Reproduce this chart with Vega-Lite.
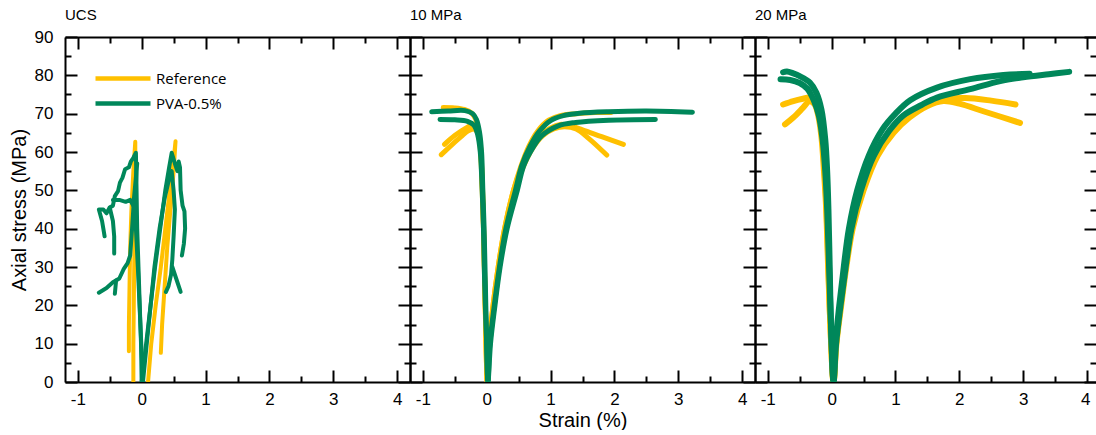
{
"$schema": "https://vega.github.io/schema/vega-lite/v6.json",
"background": "white",
"padding": {"left": 9, "top": 8, "right": 0, "bottom": 0},
"spacing": 0,
"bounds": "flush",
"config": {
  "view": {"stroke": null},
  "font": "Liberation Sans",
  "axis": {"labelFont": "Liberation Sans", "labelFontSize": 17, "labelColor": "black", "titleFont": "Liberation Sans", "titleFontSize": 20, "titleFontWeight": "normal", "titleColor": "black", "domainColor": "black", "domainWidth": 2, "tickColor": "black", "tickWidth": 2, "grid": false, "labelFlush": false, "labelOverlap": false},
  "title": {"font": "Liberation Sans", "fontSize": 15, "fontWeight": "normal", "anchor": "start", "frame": "group", "offset": 15, "baseline": "alphabetic", "color": "black"},
  "line": {"strokeCap": "round", "strokeJoin": "round"}
},
"datasets": {
"ucs": [
{"mat":"Reference","sid":"R-UCS-L","i":0,"strain":-0.2,"stress":8},{"mat":"Reference","sid":"R-UCS-L","i":1,"strain":-0.2,"stress":15},{"mat":"Reference","sid":"R-UCS-L","i":2,"strain":-0.19,"stress":25},{"mat":"Reference","sid":"R-UCS-L","i":3,"strain":-0.18,"stress":35},{"mat":"Reference","sid":"R-UCS-L","i":4,"strain":-0.16,"stress":45},{"mat":"Reference","sid":"R-UCS-L","i":5,"strain":-0.13,"stress":55},{"mat":"Reference","sid":"R-UCS-L","i":6,"strain":-0.1,"stress":62.7},{"mat":"Reference","sid":"R-UCS-L","i":7,"strain":-0.1,"stress":55},{"mat":"Reference","sid":"R-UCS-L","i":8,"strain":-0.11,"stress":40},{"mat":"Reference","sid":"R-UCS-L","i":9,"strain":-0.12,"stress":25},{"mat":"Reference","sid":"R-UCS-L","i":10,"strain":-0.13,"stress":10},{"mat":"Reference","sid":"R-UCS-L","i":11,"strain":-0.13,"stress":0},
{"mat":"Reference","sid":"R-UCS-A","i":0,"strain":0.1,"stress":0},{"mat":"Reference","sid":"R-UCS-A","i":1,"strain":0.15,"stress":10},{"mat":"Reference","sid":"R-UCS-A","i":2,"strain":0.22,"stress":20},{"mat":"Reference","sid":"R-UCS-A","i":3,"strain":0.3,"stress":30},{"mat":"Reference","sid":"R-UCS-A","i":4,"strain":0.37,"stress":40},{"mat":"Reference","sid":"R-UCS-A","i":5,"strain":0.44,"stress":50},{"mat":"Reference","sid":"R-UCS-A","i":6,"strain":0.5,"stress":58},{"mat":"Reference","sid":"R-UCS-A","i":7,"strain":0.53,"stress":62.8},{"mat":"Reference","sid":"R-UCS-A","i":8,"strain":0.5,"stress":55},{"mat":"Reference","sid":"R-UCS-A","i":9,"strain":0.45,"stress":45},{"mat":"Reference","sid":"R-UCS-A","i":10,"strain":0.4,"stress":35},{"mat":"Reference","sid":"R-UCS-A","i":11,"strain":0.36,"stress":25},{"mat":"Reference","sid":"R-UCS-A","i":12,"strain":0.32,"stress":15},{"mat":"Reference","sid":"R-UCS-A","i":13,"strain":0.3,"stress":7.6},
{"mat":"PVA-0.5%","sid":"G-UCS-1L","i":0,"strain":0,"stress":0},{"mat":"PVA-0.5%","sid":"G-UCS-1L","i":1,"strain":-0.01,"stress":10},{"mat":"PVA-0.5%","sid":"G-UCS-1L","i":2,"strain":-0.03,"stress":20},{"mat":"PVA-0.5%","sid":"G-UCS-1L","i":3,"strain":-0.05,"stress":30},{"mat":"PVA-0.5%","sid":"G-UCS-1L","i":4,"strain":-0.07,"stress":40},{"mat":"PVA-0.5%","sid":"G-UCS-1L","i":5,"strain":-0.08,"stress":50},{"mat":"PVA-0.5%","sid":"G-UCS-1L","i":6,"strain":-0.09,"stress":59.8},{"mat":"PVA-0.5%","sid":"G-UCS-1L","i":7,"strain":-0.13,"stress":58.5},{"mat":"PVA-0.5%","sid":"G-UCS-1L","i":8,"strain":-0.17,"stress":57.5},{"mat":"PVA-0.5%","sid":"G-UCS-1L","i":9,"strain":-0.2,"stress":56},{"mat":"PVA-0.5%","sid":"G-UCS-1L","i":10,"strain":-0.26,"stress":55.5},{"mat":"PVA-0.5%","sid":"G-UCS-1L","i":11,"strain":-0.3,"stress":53.3},{"mat":"PVA-0.5%","sid":"G-UCS-1L","i":12,"strain":-0.34,"stress":52},{"mat":"PVA-0.5%","sid":"G-UCS-1L","i":13,"strain":-0.37,"stress":49.8},{"mat":"PVA-0.5%","sid":"G-UCS-1L","i":14,"strain":-0.42,"stress":48.5},{"mat":"PVA-0.5%","sid":"G-UCS-1L","i":15,"strain":-0.45,"stress":46},{"mat":"PVA-0.5%","sid":"G-UCS-1L","i":16,"strain":-0.5,"stress":45.5},{"mat":"PVA-0.5%","sid":"G-UCS-1L","i":17,"strain":-0.55,"stress":44},{"mat":"PVA-0.5%","sid":"G-UCS-1L","i":18,"strain":-0.6,"stress":45},{"mat":"PVA-0.5%","sid":"G-UCS-1L","i":19,"strain":-0.67,"stress":45},{"mat":"PVA-0.5%","sid":"G-UCS-1L","i":20,"strain":-0.62,"stress":42},{"mat":"PVA-0.5%","sid":"G-UCS-1L","i":21,"strain":-0.6,"stress":40},{"mat":"PVA-0.5%","sid":"G-UCS-1L","i":22,"strain":-0.58,"stress":38},
{"mat":"PVA-0.5%","sid":"G-UCS-1Lb","i":0,"strain":-0.5,"stress":45.5},{"mat":"PVA-0.5%","sid":"G-UCS-1Lb","i":1,"strain":-0.45,"stress":42},{"mat":"PVA-0.5%","sid":"G-UCS-1Lb","i":2,"strain":-0.43,"stress":38},{"mat":"PVA-0.5%","sid":"G-UCS-1Lb","i":3,"strain":-0.43,"stress":33.5},
{"mat":"PVA-0.5%","sid":"G-UCS-1Lc","i":0,"strain":-0.45,"stress":47.5},{"mat":"PVA-0.5%","sid":"G-UCS-1Lc","i":1,"strain":-0.35,"stress":47.5},{"mat":"PVA-0.5%","sid":"G-UCS-1Lc","i":2,"strain":-0.25,"stress":47},{"mat":"PVA-0.5%","sid":"G-UCS-1Lc","i":3,"strain":-0.18,"stress":47.5},{"mat":"PVA-0.5%","sid":"G-UCS-1Lc","i":4,"strain":-0.13,"stress":46},
{"mat":"PVA-0.5%","sid":"G-UCS-2L","i":0,"strain":0.02,"stress":0},{"mat":"PVA-0.5%","sid":"G-UCS-2L","i":1,"strain":-0.02,"stress":15},{"mat":"PVA-0.5%","sid":"G-UCS-2L","i":2,"strain":-0.06,"stress":30},{"mat":"PVA-0.5%","sid":"G-UCS-2L","i":3,"strain":-0.09,"stress":40},{"mat":"PVA-0.5%","sid":"G-UCS-2L","i":4,"strain":-0.1,"stress":48},{"mat":"PVA-0.5%","sid":"G-UCS-2L","i":5,"strain":-0.08,"stress":55},{"mat":"PVA-0.5%","sid":"G-UCS-2L","i":6,"strain":-0.07,"stress":57},{"mat":"PVA-0.5%","sid":"G-UCS-2L","i":7,"strain":-0.12,"stress":48},{"mat":"PVA-0.5%","sid":"G-UCS-2L","i":8,"strain":-0.15,"stress":40},{"mat":"PVA-0.5%","sid":"G-UCS-2L","i":9,"strain":-0.18,"stress":33},{"mat":"PVA-0.5%","sid":"G-UCS-2L","i":10,"strain":-0.22,"stress":31},{"mat":"PVA-0.5%","sid":"G-UCS-2L","i":11,"strain":-0.28,"stress":29.5},{"mat":"PVA-0.5%","sid":"G-UCS-2L","i":12,"strain":-0.35,"stress":27},{"mat":"PVA-0.5%","sid":"G-UCS-2L","i":13,"strain":-0.45,"stress":26},{"mat":"PVA-0.5%","sid":"G-UCS-2L","i":14,"strain":-0.55,"stress":24.5},{"mat":"PVA-0.5%","sid":"G-UCS-2L","i":15,"strain":-0.67,"stress":23.3},
{"mat":"PVA-0.5%","sid":"G-UCS-2Lb","i":0,"strain":-0.4,"stress":26.5},{"mat":"PVA-0.5%","sid":"G-UCS-2Lb","i":1,"strain":-0.42,"stress":23},
{"mat":"PVA-0.5%","sid":"G-UCS-1A","i":0,"strain":0,"stress":0},{"mat":"PVA-0.5%","sid":"G-UCS-1A","i":1,"strain":0.07,"stress":10},{"mat":"PVA-0.5%","sid":"G-UCS-1A","i":2,"strain":0.14,"stress":20},{"mat":"PVA-0.5%","sid":"G-UCS-1A","i":3,"strain":0.21,"stress":30},{"mat":"PVA-0.5%","sid":"G-UCS-1A","i":4,"strain":0.29,"stress":40},{"mat":"PVA-0.5%","sid":"G-UCS-1A","i":5,"strain":0.37,"stress":50},{"mat":"PVA-0.5%","sid":"G-UCS-1A","i":6,"strain":0.43,"stress":56},{"mat":"PVA-0.5%","sid":"G-UCS-1A","i":7,"strain":0.47,"stress":59.8},{"mat":"PVA-0.5%","sid":"G-UCS-1A","i":8,"strain":0.52,"stress":57},{"mat":"PVA-0.5%","sid":"G-UCS-1A","i":9,"strain":0.56,"stress":55},{"mat":"PVA-0.5%","sid":"G-UCS-1A","i":10,"strain":0.58,"stress":57.5},{"mat":"PVA-0.5%","sid":"G-UCS-1A","i":11,"strain":0.6,"stress":56},{"mat":"PVA-0.5%","sid":"G-UCS-1A","i":12,"strain":0.61,"stress":50},{"mat":"PVA-0.5%","sid":"G-UCS-1A","i":13,"strain":0.64,"stress":46},{"mat":"PVA-0.5%","sid":"G-UCS-1A","i":14,"strain":0.67,"stress":44.5},{"mat":"PVA-0.5%","sid":"G-UCS-1A","i":15,"strain":0.68,"stress":40},{"mat":"PVA-0.5%","sid":"G-UCS-1A","i":16,"strain":0.66,"stress":36},{"mat":"PVA-0.5%","sid":"G-UCS-1A","i":17,"strain":0.63,"stress":33},
{"mat":"PVA-0.5%","sid":"G-UCS-2A","i":0,"strain":0.02,"stress":0},{"mat":"PVA-0.5%","sid":"G-UCS-2A","i":1,"strain":0.08,"stress":10},{"mat":"PVA-0.5%","sid":"G-UCS-2A","i":2,"strain":0.14,"stress":20},{"mat":"PVA-0.5%","sid":"G-UCS-2A","i":3,"strain":0.2,"stress":30},{"mat":"PVA-0.5%","sid":"G-UCS-2A","i":4,"strain":0.28,"stress":40},{"mat":"PVA-0.5%","sid":"G-UCS-2A","i":5,"strain":0.36,"stress":48},{"mat":"PVA-0.5%","sid":"G-UCS-2A","i":6,"strain":0.43,"stress":53},{"mat":"PVA-0.5%","sid":"G-UCS-2A","i":7,"strain":0.47,"stress":55},{"mat":"PVA-0.5%","sid":"G-UCS-2A","i":8,"strain":0.5,"stress":50},{"mat":"PVA-0.5%","sid":"G-UCS-2A","i":9,"strain":0.52,"stress":45},{"mat":"PVA-0.5%","sid":"G-UCS-2A","i":10,"strain":0.5,"stress":38},{"mat":"PVA-0.5%","sid":"G-UCS-2A","i":11,"strain":0.48,"stress":32},{"mat":"PVA-0.5%","sid":"G-UCS-2A","i":12,"strain":0.46,"stress":28},{"mat":"PVA-0.5%","sid":"G-UCS-2A","i":13,"strain":0.42,"stress":25},{"mat":"PVA-0.5%","sid":"G-UCS-2A","i":14,"strain":0.38,"stress":23.5},
{"mat":"PVA-0.5%","sid":"G-UCS-2Ab","i":0,"strain":0.48,"stress":30},{"mat":"PVA-0.5%","sid":"G-UCS-2Ab","i":1,"strain":0.54,"stress":27},{"mat":"PVA-0.5%","sid":"G-UCS-2Ab","i":2,"strain":0.61,"stress":23.5}
],
"p10": [
{"mat":"Reference","sid":"R-10-1","i":0,"strain":-0.68,"stress":71.6},{"mat":"Reference","sid":"R-10-1","i":1,"strain":-0.5,"stress":71.5},{"mat":"Reference","sid":"R-10-1","i":2,"strain":-0.35,"stress":71.1},{"mat":"Reference","sid":"R-10-1","i":3,"strain":-0.24,"stress":70.2},{"mat":"Reference","sid":"R-10-1","i":4,"strain":-0.17,"stress":68.5},{"mat":"Reference","sid":"R-10-1","i":5,"strain":-0.12,"stress":65},{"mat":"Reference","sid":"R-10-1","i":6,"strain":-0.09,"stress":60},{"mat":"Reference","sid":"R-10-1","i":7,"strain":-0.07,"stress":50},{"mat":"Reference","sid":"R-10-1","i":8,"strain":-0.05,"stress":40},{"mat":"Reference","sid":"R-10-1","i":9,"strain":-0.03,"stress":25},{"mat":"Reference","sid":"R-10-1","i":10,"strain":-0.01,"stress":10},{"mat":"Reference","sid":"R-10-1","i":11,"strain":0.01,"stress":0},{"mat":"Reference","sid":"R-10-1","i":12,"strain":0.04,"stress":10},{"mat":"Reference","sid":"R-10-1","i":13,"strain":0.1,"stress":20},{"mat":"Reference","sid":"R-10-1","i":14,"strain":0.18,"stress":30},{"mat":"Reference","sid":"R-10-1","i":15,"strain":0.28,"stress":40},{"mat":"Reference","sid":"R-10-1","i":16,"strain":0.42,"stress":50},{"mat":"Reference","sid":"R-10-1","i":17,"strain":0.53,"stress":56},{"mat":"Reference","sid":"R-10-1","i":18,"strain":0.66,"stress":61.5},{"mat":"Reference","sid":"R-10-1","i":19,"strain":0.8,"stress":65.5},{"mat":"Reference","sid":"R-10-1","i":20,"strain":0.97,"stress":68.3},{"mat":"Reference","sid":"R-10-1","i":21,"strain":1.15,"stress":69.5},{"mat":"Reference","sid":"R-10-1","i":22,"strain":1.4,"stress":70},{"mat":"Reference","sid":"R-10-1","i":23,"strain":1.7,"stress":70.3},{"mat":"Reference","sid":"R-10-1","i":24,"strain":1.95,"stress":70.3},
{"mat":"Reference","sid":"R-10-2","i":0,"strain":-0.66,"stress":62},{"mat":"Reference","sid":"R-10-2","i":1,"strain":-0.5,"stress":64.3},{"mat":"Reference","sid":"R-10-2","i":2,"strain":-0.3,"stress":66.5},{"mat":"Reference","sid":"R-10-2","i":3,"strain":-0.2,"stress":67.3},{"mat":"Reference","sid":"R-10-2","i":4,"strain":-0.14,"stress":66},{"mat":"Reference","sid":"R-10-2","i":5,"strain":-0.1,"stress":62},{"mat":"Reference","sid":"R-10-2","i":6,"strain":-0.075,"stress":55},{"mat":"Reference","sid":"R-10-2","i":7,"strain":-0.055,"stress":45},{"mat":"Reference","sid":"R-10-2","i":8,"strain":-0.035,"stress":30},{"mat":"Reference","sid":"R-10-2","i":9,"strain":-0.015,"stress":15},{"mat":"Reference","sid":"R-10-2","i":10,"strain":0.01,"stress":0},{"mat":"Reference","sid":"R-10-2","i":11,"strain":0.04,"stress":10},{"mat":"Reference","sid":"R-10-2","i":12,"strain":0.1,"stress":20},{"mat":"Reference","sid":"R-10-2","i":13,"strain":0.18,"stress":30},{"mat":"Reference","sid":"R-10-2","i":14,"strain":0.28,"stress":40},{"mat":"Reference","sid":"R-10-2","i":15,"strain":0.42,"stress":50},{"mat":"Reference","sid":"R-10-2","i":16,"strain":0.55,"stress":56},{"mat":"Reference","sid":"R-10-2","i":17,"strain":0.7,"stress":61},{"mat":"Reference","sid":"R-10-2","i":18,"strain":0.85,"stress":64.5},{"mat":"Reference","sid":"R-10-2","i":19,"strain":1,"stress":66.3},{"mat":"Reference","sid":"R-10-2","i":20,"strain":1.15,"stress":67.2},{"mat":"Reference","sid":"R-10-2","i":21,"strain":1.28,"stress":67},{"mat":"Reference","sid":"R-10-2","i":22,"strain":1.5,"stress":65.8},{"mat":"Reference","sid":"R-10-2","i":23,"strain":1.8,"stress":64},{"mat":"Reference","sid":"R-10-2","i":24,"strain":2.14,"stress":62},
{"mat":"Reference","sid":"R-10-3","i":0,"strain":-0.71,"stress":59.3},{"mat":"Reference","sid":"R-10-3","i":1,"strain":-0.55,"stress":61.8},{"mat":"Reference","sid":"R-10-3","i":2,"strain":-0.4,"stress":64},{"mat":"Reference","sid":"R-10-3","i":3,"strain":-0.29,"stress":65.5},{"mat":"Reference","sid":"R-10-3","i":4,"strain":-0.2,"stress":66},{"mat":"Reference","sid":"R-10-3","i":5,"strain":-0.14,"stress":65},{"mat":"Reference","sid":"R-10-3","i":6,"strain":-0.1,"stress":61},{"mat":"Reference","sid":"R-10-3","i":7,"strain":-0.08,"stress":55},{"mat":"Reference","sid":"R-10-3","i":8,"strain":-0.055,"stress":45},{"mat":"Reference","sid":"R-10-3","i":9,"strain":-0.035,"stress":30},{"mat":"Reference","sid":"R-10-3","i":10,"strain":-0.015,"stress":15},{"mat":"Reference","sid":"R-10-3","i":11,"strain":0.01,"stress":0},{"mat":"Reference","sid":"R-10-3","i":12,"strain":0.045,"stress":10},{"mat":"Reference","sid":"R-10-3","i":13,"strain":0.11,"stress":20},{"mat":"Reference","sid":"R-10-3","i":14,"strain":0.19,"stress":30},{"mat":"Reference","sid":"R-10-3","i":15,"strain":0.29,"stress":40},{"mat":"Reference","sid":"R-10-3","i":16,"strain":0.44,"stress":50},{"mat":"Reference","sid":"R-10-3","i":17,"strain":0.57,"stress":56},{"mat":"Reference","sid":"R-10-3","i":18,"strain":0.72,"stress":61},{"mat":"Reference","sid":"R-10-3","i":19,"strain":0.88,"stress":64.3},{"mat":"Reference","sid":"R-10-3","i":20,"strain":1.05,"stress":66},{"mat":"Reference","sid":"R-10-3","i":21,"strain":1.22,"stress":66.6},{"mat":"Reference","sid":"R-10-3","i":22,"strain":1.4,"stress":66},{"mat":"Reference","sid":"R-10-3","i":23,"strain":1.6,"stress":63.5},{"mat":"Reference","sid":"R-10-3","i":24,"strain":1.88,"stress":59.2},
{"mat":"PVA-0.5%","sid":"G-10-A","i":0,"strain":-0.86,"stress":70.5},{"mat":"PVA-0.5%","sid":"G-10-A","i":1,"strain":-0.6,"stress":70.7},{"mat":"PVA-0.5%","sid":"G-10-A","i":2,"strain":-0.34,"stress":70.8},{"mat":"PVA-0.5%","sid":"G-10-A","i":3,"strain":-0.22,"stress":70},{"mat":"PVA-0.5%","sid":"G-10-A","i":4,"strain":-0.16,"stress":68.5},{"mat":"PVA-0.5%","sid":"G-10-A","i":5,"strain":-0.11,"stress":65},{"mat":"PVA-0.5%","sid":"G-10-A","i":6,"strain":-0.08,"stress":60},{"mat":"PVA-0.5%","sid":"G-10-A","i":7,"strain":-0.06,"stress":50},{"mat":"PVA-0.5%","sid":"G-10-A","i":8,"strain":-0.04,"stress":40},{"mat":"PVA-0.5%","sid":"G-10-A","i":9,"strain":-0.02,"stress":25},{"mat":"PVA-0.5%","sid":"G-10-A","i":10,"strain":0,"stress":10},{"mat":"PVA-0.5%","sid":"G-10-A","i":11,"strain":0.02,"stress":0},{"mat":"PVA-0.5%","sid":"G-10-A","i":12,"strain":0.05,"stress":10},{"mat":"PVA-0.5%","sid":"G-10-A","i":13,"strain":0.12,"stress":20},{"mat":"PVA-0.5%","sid":"G-10-A","i":14,"strain":0.2,"stress":30},{"mat":"PVA-0.5%","sid":"G-10-A","i":15,"strain":0.3,"stress":40},{"mat":"PVA-0.5%","sid":"G-10-A","i":16,"strain":0.45,"stress":50},{"mat":"PVA-0.5%","sid":"G-10-A","i":17,"strain":0.55,"stress":56.5},{"mat":"PVA-0.5%","sid":"G-10-A","i":18,"strain":0.68,"stress":61.5},{"mat":"PVA-0.5%","sid":"G-10-A","i":19,"strain":0.82,"stress":65.3},{"mat":"PVA-0.5%","sid":"G-10-A","i":20,"strain":1,"stress":68.2},{"mat":"PVA-0.5%","sid":"G-10-A","i":21,"strain":1.2,"stress":69.5},{"mat":"PVA-0.5%","sid":"G-10-A","i":22,"strain":1.45,"stress":70.1},{"mat":"PVA-0.5%","sid":"G-10-A","i":23,"strain":1.9,"stress":70.5},{"mat":"PVA-0.5%","sid":"G-10-A","i":24,"strain":2.5,"stress":70.7},{"mat":"PVA-0.5%","sid":"G-10-A","i":25,"strain":3.22,"stress":70.4},
{"mat":"PVA-0.5%","sid":"G-10-B","i":0,"strain":-0.73,"stress":68.5},{"mat":"PVA-0.5%","sid":"G-10-B","i":1,"strain":-0.5,"stress":68.4},{"mat":"PVA-0.5%","sid":"G-10-B","i":2,"strain":-0.3,"stress":68},{"mat":"PVA-0.5%","sid":"G-10-B","i":3,"strain":-0.2,"stress":67},{"mat":"PVA-0.5%","sid":"G-10-B","i":4,"strain":-0.14,"stress":64.5},{"mat":"PVA-0.5%","sid":"G-10-B","i":5,"strain":-0.1,"stress":60},{"mat":"PVA-0.5%","sid":"G-10-B","i":6,"strain":-0.07,"stress":50},{"mat":"PVA-0.5%","sid":"G-10-B","i":7,"strain":-0.05,"stress":40},{"mat":"PVA-0.5%","sid":"G-10-B","i":8,"strain":-0.03,"stress":25},{"mat":"PVA-0.5%","sid":"G-10-B","i":9,"strain":0,"stress":10},{"mat":"PVA-0.5%","sid":"G-10-B","i":10,"strain":0.02,"stress":0},{"mat":"PVA-0.5%","sid":"G-10-B","i":11,"strain":0.06,"stress":10},{"mat":"PVA-0.5%","sid":"G-10-B","i":12,"strain":0.13,"stress":20},{"mat":"PVA-0.5%","sid":"G-10-B","i":13,"strain":0.21,"stress":30},{"mat":"PVA-0.5%","sid":"G-10-B","i":14,"strain":0.32,"stress":40},{"mat":"PVA-0.5%","sid":"G-10-B","i":15,"strain":0.48,"stress":50},{"mat":"PVA-0.5%","sid":"G-10-B","i":16,"strain":0.58,"stress":56.4},{"mat":"PVA-0.5%","sid":"G-10-B","i":17,"strain":0.72,"stress":61},{"mat":"PVA-0.5%","sid":"G-10-B","i":18,"strain":0.86,"stress":64.2},{"mat":"PVA-0.5%","sid":"G-10-B","i":19,"strain":1.12,"stress":66.8},{"mat":"PVA-0.5%","sid":"G-10-B","i":20,"strain":1.39,"stress":67.7},{"mat":"PVA-0.5%","sid":"G-10-B","i":21,"strain":1.91,"stress":68.3},{"mat":"PVA-0.5%","sid":"G-10-B","i":22,"strain":2.64,"stress":68.5}
],
"p20": [
{"mat":"Reference","sid":"R-20-1","i":0,"strain":-0.76,"stress":72.4},{"mat":"Reference","sid":"R-20-1","i":1,"strain":-0.6,"stress":73.3},{"mat":"Reference","sid":"R-20-1","i":2,"strain":-0.45,"stress":73.9},{"mat":"Reference","sid":"R-20-1","i":3,"strain":-0.34,"stress":74.2},{"mat":"Reference","sid":"R-20-1","i":4,"strain":-0.26,"stress":73},{"mat":"Reference","sid":"R-20-1","i":5,"strain":-0.2,"stress":70},{"mat":"Reference","sid":"R-20-1","i":6,"strain":-0.15,"stress":64.2},{"mat":"Reference","sid":"R-20-1","i":7,"strain":-0.11,"stress":55},{"mat":"Reference","sid":"R-20-1","i":8,"strain":-0.08,"stress":45},{"mat":"Reference","sid":"R-20-1","i":9,"strain":-0.05,"stress":30},{"mat":"Reference","sid":"R-20-1","i":10,"strain":-0.02,"stress":15},{"mat":"Reference","sid":"R-20-1","i":11,"strain":0.03,"stress":0},{"mat":"Reference","sid":"R-20-1","i":12,"strain":0.07,"stress":10},{"mat":"Reference","sid":"R-20-1","i":13,"strain":0.14,"stress":20},{"mat":"Reference","sid":"R-20-1","i":14,"strain":0.22,"stress":30},{"mat":"Reference","sid":"R-20-1","i":15,"strain":0.32,"stress":40},{"mat":"Reference","sid":"R-20-1","i":16,"strain":0.48,"stress":50},{"mat":"Reference","sid":"R-20-1","i":17,"strain":0.7,"stress":59},{"mat":"Reference","sid":"R-20-1","i":18,"strain":0.95,"stress":65},{"mat":"Reference","sid":"R-20-1","i":19,"strain":1.2,"stress":69.3},{"mat":"Reference","sid":"R-20-1","i":20,"strain":1.5,"stress":72.3},{"mat":"Reference","sid":"R-20-1","i":21,"strain":1.8,"stress":73.8},{"mat":"Reference","sid":"R-20-1","i":22,"strain":2.1,"stress":74.1},{"mat":"Reference","sid":"R-20-1","i":23,"strain":2.5,"stress":73.4},{"mat":"Reference","sid":"R-20-1","i":24,"strain":2.88,"stress":72.4},
{"mat":"Reference","sid":"R-20-2","i":0,"strain":-0.73,"stress":67.2},{"mat":"Reference","sid":"R-20-2","i":1,"strain":-0.6,"stress":69},{"mat":"Reference","sid":"R-20-2","i":2,"strain":-0.45,"stress":71.5},{"mat":"Reference","sid":"R-20-2","i":3,"strain":-0.35,"stress":73.2},{"mat":"Reference","sid":"R-20-2","i":4,"strain":-0.27,"stress":72.5},{"mat":"Reference","sid":"R-20-2","i":5,"strain":-0.21,"stress":69.5},{"mat":"Reference","sid":"R-20-2","i":6,"strain":-0.16,"stress":64},{"mat":"Reference","sid":"R-20-2","i":7,"strain":-0.12,"stress":55},{"mat":"Reference","sid":"R-20-2","i":8,"strain":-0.085,"stress":45},{"mat":"Reference","sid":"R-20-2","i":9,"strain":-0.055,"stress":30},{"mat":"Reference","sid":"R-20-2","i":10,"strain":-0.02,"stress":15},{"mat":"Reference","sid":"R-20-2","i":11,"strain":0.03,"stress":0},{"mat":"Reference","sid":"R-20-2","i":12,"strain":0.075,"stress":10},{"mat":"Reference","sid":"R-20-2","i":13,"strain":0.15,"stress":20},{"mat":"Reference","sid":"R-20-2","i":14,"strain":0.23,"stress":30},{"mat":"Reference","sid":"R-20-2","i":15,"strain":0.33,"stress":40},{"mat":"Reference","sid":"R-20-2","i":16,"strain":0.5,"stress":50},{"mat":"Reference","sid":"R-20-2","i":17,"strain":0.72,"stress":59},{"mat":"Reference","sid":"R-20-2","i":18,"strain":0.97,"stress":65},{"mat":"Reference","sid":"R-20-2","i":19,"strain":1.22,"stress":69},{"mat":"Reference","sid":"R-20-2","i":20,"strain":1.5,"stress":72},{"mat":"Reference","sid":"R-20-2","i":21,"strain":1.75,"stress":73.3},{"mat":"Reference","sid":"R-20-2","i":22,"strain":2,"stress":72.6},{"mat":"Reference","sid":"R-20-2","i":23,"strain":2.4,"stress":70.5},{"mat":"Reference","sid":"R-20-2","i":24,"strain":2.95,"stress":67.6},
{"mat":"PVA-0.5%","sid":"G-20-A","i":0,"strain":-0.76,"stress":80.8},{"mat":"PVA-0.5%","sid":"G-20-A","i":1,"strain":-0.7,"stress":81},{"mat":"PVA-0.5%","sid":"G-20-A","i":2,"strain":-0.6,"stress":80.5},{"mat":"PVA-0.5%","sid":"G-20-A","i":3,"strain":-0.5,"stress":79.8},{"mat":"PVA-0.5%","sid":"G-20-A","i":4,"strain":-0.34,"stress":78.1},{"mat":"PVA-0.5%","sid":"G-20-A","i":5,"strain":-0.24,"stress":75.5},{"mat":"PVA-0.5%","sid":"G-20-A","i":6,"strain":-0.16,"stress":71.1},{"mat":"PVA-0.5%","sid":"G-20-A","i":7,"strain":-0.1,"stress":63.3},{"mat":"PVA-0.5%","sid":"G-20-A","i":8,"strain":-0.07,"stress":55},{"mat":"PVA-0.5%","sid":"G-20-A","i":9,"strain":-0.05,"stress":45},{"mat":"PVA-0.5%","sid":"G-20-A","i":10,"strain":-0.03,"stress":30},{"mat":"PVA-0.5%","sid":"G-20-A","i":11,"strain":-0.01,"stress":15},{"mat":"PVA-0.5%","sid":"G-20-A","i":12,"strain":0.03,"stress":0},{"mat":"PVA-0.5%","sid":"G-20-A","i":13,"strain":0.06,"stress":10},{"mat":"PVA-0.5%","sid":"G-20-A","i":14,"strain":0.12,"stress":20},{"mat":"PVA-0.5%","sid":"G-20-A","i":15,"strain":0.19,"stress":30},{"mat":"PVA-0.5%","sid":"G-20-A","i":16,"strain":0.27,"stress":40},{"mat":"PVA-0.5%","sid":"G-20-A","i":17,"strain":0.4,"stress":50},{"mat":"PVA-0.5%","sid":"G-20-A","i":18,"strain":0.58,"stress":59},{"mat":"PVA-0.5%","sid":"G-20-A","i":19,"strain":0.8,"stress":66},{"mat":"PVA-0.5%","sid":"G-20-A","i":20,"strain":1,"stress":70},{"mat":"PVA-0.5%","sid":"G-20-A","i":21,"strain":1.23,"stress":73.5},{"mat":"PVA-0.5%","sid":"G-20-A","i":22,"strain":1.65,"stress":76.8},{"mat":"PVA-0.5%","sid":"G-20-A","i":23,"strain":2.17,"stress":79},{"mat":"PVA-0.5%","sid":"G-20-A","i":24,"strain":2.69,"stress":80.1},{"mat":"PVA-0.5%","sid":"G-20-A","i":25,"strain":3.1,"stress":80.4},
{"mat":"PVA-0.5%","sid":"G-20-B","i":0,"strain":-0.8,"stress":79},{"mat":"PVA-0.5%","sid":"G-20-B","i":1,"strain":-0.65,"stress":78.8},{"mat":"PVA-0.5%","sid":"G-20-B","i":2,"strain":-0.5,"stress":78},{"mat":"PVA-0.5%","sid":"G-20-B","i":3,"strain":-0.38,"stress":76.5},{"mat":"PVA-0.5%","sid":"G-20-B","i":4,"strain":-0.28,"stress":73.5},{"mat":"PVA-0.5%","sid":"G-20-B","i":5,"strain":-0.2,"stress":69.5},{"mat":"PVA-0.5%","sid":"G-20-B","i":6,"strain":-0.14,"stress":63},{"mat":"PVA-0.5%","sid":"G-20-B","i":7,"strain":-0.1,"stress":55},{"mat":"PVA-0.5%","sid":"G-20-B","i":8,"strain":-0.07,"stress":45},{"mat":"PVA-0.5%","sid":"G-20-B","i":9,"strain":-0.04,"stress":30},{"mat":"PVA-0.5%","sid":"G-20-B","i":10,"strain":-0.01,"stress":15},{"mat":"PVA-0.5%","sid":"G-20-B","i":11,"strain":0.03,"stress":0},{"mat":"PVA-0.5%","sid":"G-20-B","i":12,"strain":0.07,"stress":10},{"mat":"PVA-0.5%","sid":"G-20-B","i":13,"strain":0.14,"stress":20},{"mat":"PVA-0.5%","sid":"G-20-B","i":14,"strain":0.22,"stress":30},{"mat":"PVA-0.5%","sid":"G-20-B","i":15,"strain":0.31,"stress":40},{"mat":"PVA-0.5%","sid":"G-20-B","i":16,"strain":0.46,"stress":50},{"mat":"PVA-0.5%","sid":"G-20-B","i":17,"strain":0.66,"stress":59},{"mat":"PVA-0.5%","sid":"G-20-B","i":18,"strain":0.9,"stress":65.5},{"mat":"PVA-0.5%","sid":"G-20-B","i":19,"strain":1.12,"stress":69.5},{"mat":"PVA-0.5%","sid":"G-20-B","i":20,"strain":1.4,"stress":72.2},{"mat":"PVA-0.5%","sid":"G-20-B","i":21,"strain":1.65,"stress":74.2},{"mat":"PVA-0.5%","sid":"G-20-B","i":22,"strain":2.17,"stress":76.4},{"mat":"PVA-0.5%","sid":"G-20-B","i":23,"strain":2.64,"stress":78.5},{"mat":"PVA-0.5%","sid":"G-20-B","i":24,"strain":3,"stress":79.5},{"mat":"PVA-0.5%","sid":"G-20-B","i":25,"strain":3.4,"stress":80.3},{"mat":"PVA-0.5%","sid":"G-20-B","i":26,"strain":3.72,"stress":80.9}
]
},
"resolve": {"scale": {"color": "independent"}, "legend": {"color": "independent"}},
"hconcat": [
{
  "width": 345, "height": 345,
  "title": {"text": "UCS", "dy": 10},
  "data": {"name": "ucs"},
  "encoding": {"detail": {"field": "sid"}, "order": {"field": "i", "type": "quantitative"}},
  "layer": [
    {"mark": {"type": "line", "strokeWidth": 4, "clip": true},
     "encoding": {
       "x": {"field": "strain", "type": "quantitative", "scale": {"domain": [-1.2, 4.2], "nice": false, "zero": false}, "axis": {"orient": "bottom", "values": [-1,0,1,2,3,4], "ticks": false, "labelPadding": 9, "labelExpr": "'' + datum.value", "title": null}},
       "y": {"field": "stress", "type": "quantitative", "scale": {"domain": [0, 90], "nice": false}, "axis": {"orient": "left", "values": [0,10,20,30,40,50,60,70,80,90], "ticks": false, "labelPadding": 12, "title": "Axial stress (MPa)", "titlePadding": 5}},
       "color": {"field": "mat", "type": "nominal", "scale": {"domain": ["Reference", "PVA-0.5%"], "range": ["#FFC000", "#00875A"]},
         "legend": {"orient": "none", "legendX": 28, "legendY": 30, "title": null, "symbolType": "stroke", "symbolSize": 3025, "symbolStrokeWidth": 4.5, "labelFont": "Open Sans", "labelFontSize": 15, "labelColor": "black", "clipHeight": 23, "rowPadding": 2, "labelOffset": 3, "padding": 0}}
     }},
    {"mark": {"type": "line", "opacity": 0},
     "encoding": {
       "x": {"field": "strain", "type": "quantitative", "scale": {"domain": [-1.2, 4.2], "nice": false, "zero": false}, "axis": {"orient": "bottom", "values": [-1,0,1,2,3,4], "labels": false, "domain": false, "title": null, "tickSize": -12}},
       "y": {"field": "stress", "type": "quantitative", "scale": {"domain": [0, 90], "nice": false}, "axis": {"orient": "left", "values": [0,10,20,30,40,50,60,70,80,90], "labels": false, "domain": false, "title": null, "tickSize": -12}}
     }},
    {"mark": {"type": "line", "opacity": 0},
     "encoding": {
       "x": {"field": "strain", "type": "quantitative", "scale": {"domain": [-1.2, 4.2], "nice": false, "zero": false}, "axis": {"orient": "bottom", "values": [-0.5,0.5,1.5,2.5,3.5], "labels": false, "domain": false, "title": null, "tickSize": -6}},
       "y": {"field": "stress", "type": "quantitative", "scale": {"domain": [0, 90], "nice": false}, "axis": {"orient": "left", "values": [5,15,25,35,45,55,65,75,85], "labels": false, "domain": false, "title": null, "tickSize": -6}}
     }},
    {"mark": {"type": "line", "opacity": 0},
     "encoding": {
       "x": {"field": "strain", "type": "quantitative", "scale": {"domain": [-1.2, 4.2], "nice": false, "zero": false}, "axis": {"orient": "top", "values": [-1,0,1,2,3,4], "labels": false, "domain": true, "title": null, "tickSize": -12}},
       "y": {"field": "stress", "type": "quantitative", "scale": {"domain": [0, 90], "nice": false}, "axis": {"orient": "right", "values": [0,10,20,30,40,50,60,70,80,90], "labels": false, "domain": true, "title": null, "tickSize": -12}}
     }},
    {"mark": {"type": "line", "opacity": 0},
     "encoding": {
       "x": {"field": "strain", "type": "quantitative", "scale": {"domain": [-1.2, 4.2], "nice": false, "zero": false}, "axis": {"orient": "top", "values": [-0.5,0.5,1.5,2.5,3.5], "labels": false, "domain": false, "title": null, "tickSize": -6}},
       "y": {"field": "stress", "type": "quantitative", "scale": {"domain": [0, 90], "nice": false}, "axis": {"orient": "right", "values": [5,15,25,35,45,55,65,75,85], "labels": false, "domain": false, "title": null, "tickSize": -6}}
     }}
  ],
  "resolve": {"axis": {"x": "independent", "y": "independent"}}
},
{
  "width": 345, "height": 345,
  "title": {"text": "10 MPa", "dy": 2},
  "data": {"name": "p10"},
  "encoding": {"detail": {"field": "sid"}, "order": {"field": "i", "type": "quantitative"}},
  "layer": [
    {"mark": {"type": "line", "strokeWidth": 5, "clip": true, "interpolate": "catmull-rom"},
     "encoding": {
       "x": {"field": "strain", "type": "quantitative", "scale": {"domain": [-1.2, 4.2], "nice": false, "zero": false}, "axis": {"orient": "bottom", "values": [-1,0,1,2,3,4], "ticks": false, "labelPadding": 9, "labelExpr": "'' + datum.value", "title": "Strain (%)", "titlePadding": 3}},
       "y": {"field": "stress", "type": "quantitative", "scale": {"domain": [0, 90], "nice": false}, "axis": {"orient": "left", "values": [0,90], "labels": false, "ticks": false, "title": null}},
       "color": {"field": "mat", "type": "nominal", "scale": {"domain": ["Reference", "PVA-0.5%"], "range": ["#FFC000", "#00875A"]}, "legend": null}
     }},
    {"mark": {"type": "line", "opacity": 0},
     "encoding": {
       "x": {"field": "strain", "type": "quantitative", "scale": {"domain": [-1.2, 4.2], "nice": false, "zero": false}, "axis": {"orient": "bottom", "values": [-1,0,1,2,3,4], "labels": false, "domain": false, "title": null, "tickSize": -12}},
       "y": {"field": "stress", "type": "quantitative", "scale": {"domain": [0, 90], "nice": false}, "axis": {"orient": "left", "values": [0,10,20,30,40,50,60,70,80,90], "labels": false, "domain": false, "title": null, "tickSize": -12}}
     }},
    {"mark": {"type": "line", "opacity": 0},
     "encoding": {
       "x": {"field": "strain", "type": "quantitative", "scale": {"domain": [-1.2, 4.2], "nice": false, "zero": false}, "axis": {"orient": "bottom", "values": [-0.5,0.5,1.5,2.5,3.5], "labels": false, "domain": false, "title": null, "tickSize": -6}},
       "y": {"field": "stress", "type": "quantitative", "scale": {"domain": [0, 90], "nice": false}, "axis": {"orient": "left", "values": [5,15,25,35,45,55,65,75,85], "labels": false, "domain": false, "title": null, "tickSize": -6}}
     }},
    {"mark": {"type": "line", "opacity": 0},
     "encoding": {
       "x": {"field": "strain", "type": "quantitative", "scale": {"domain": [-1.2, 4.2], "nice": false, "zero": false}, "axis": {"orient": "top", "values": [-1,0,1,2,3,4], "labels": false, "domain": true, "title": null, "tickSize": -12}},
       "y": {"field": "stress", "type": "quantitative", "scale": {"domain": [0, 90], "nice": false}, "axis": {"orient": "right", "values": [0,10,20,30,40,50,60,70,80,90], "labels": false, "domain": true, "title": null, "tickSize": -12}}
     }},
    {"mark": {"type": "line", "opacity": 0},
     "encoding": {
       "x": {"field": "strain", "type": "quantitative", "scale": {"domain": [-1.2, 4.2], "nice": false, "zero": false}, "axis": {"orient": "top", "values": [-0.5,0.5,1.5,2.5,3.5], "labels": false, "domain": false, "title": null, "tickSize": -6}},
       "y": {"field": "stress", "type": "quantitative", "scale": {"domain": [0, 90], "nice": false}, "axis": {"orient": "right", "values": [5,15,25,35,45,55,65,75,85], "labels": false, "domain": false, "title": null, "tickSize": -6}}
     }}
  ],
  "resolve": {"axis": {"x": "independent", "y": "independent"}}
},
{
  "width": 341, "height": 345,
  "title": {"text": "20 MPa", "dy": 2},
  "data": {"name": "p20"},
  "encoding": {"detail": {"field": "sid"}, "order": {"field": "i", "type": "quantitative"}},
  "layer": [
    {"mark": {"type": "line", "strokeWidth": 6, "clip": true, "interpolate": "catmull-rom"},
     "encoding": {
       "x": {"field": "strain", "type": "quantitative", "scale": {"domain": [-1.2, 4.14], "nice": false, "zero": false}, "axis": {"orient": "bottom", "values": [-1,0,1,2,3,4], "ticks": false, "labelPadding": 9, "labelExpr": "'' + datum.value", "labelAlign": {"condition": {"test": "datum.value === 4", "value": "right"}, "value": "center"}, "labelOffset": {"condition": {"test": "datum.value === 4", "value": 3}, "value": 0}, "title": null}},
       "y": {"field": "stress", "type": "quantitative", "scale": {"domain": [0, 90], "nice": false}, "axis": {"orient": "left", "values": [0,90], "labels": false, "ticks": false, "title": null}},
       "color": {"field": "mat", "type": "nominal", "scale": {"domain": ["Reference", "PVA-0.5%"], "range": ["#FFC000", "#00875A"]}, "legend": null}
     }},
    {"mark": {"type": "line", "opacity": 0},
     "encoding": {
       "x": {"field": "strain", "type": "quantitative", "scale": {"domain": [-1.2, 4.14], "nice": false, "zero": false}, "axis": {"orient": "bottom", "values": [-1,0,1,2,3,4], "labels": false, "domain": false, "title": null, "tickSize": -12}},
       "y": {"field": "stress", "type": "quantitative", "scale": {"domain": [0, 90], "nice": false}, "axis": {"orient": "left", "values": [0,10,20,30,40,50,60,70,80,90], "labels": false, "domain": false, "title": null, "tickSize": -12}}
     }},
    {"mark": {"type": "line", "opacity": 0},
     "encoding": {
       "x": {"field": "strain", "type": "quantitative", "scale": {"domain": [-1.2, 4.14], "nice": false, "zero": false}, "axis": {"orient": "bottom", "values": [-0.5,0.5,1.5,2.5,3.5], "labels": false, "domain": false, "title": null, "tickSize": -6}},
       "y": {"field": "stress", "type": "quantitative", "scale": {"domain": [0, 90], "nice": false}, "axis": {"orient": "left", "values": [5,15,25,35,45,55,65,75,85], "labels": false, "domain": false, "title": null, "tickSize": -6}}
     }},
    {"mark": {"type": "line", "opacity": 0},
     "encoding": {
       "x": {"field": "strain", "type": "quantitative", "scale": {"domain": [-1.2, 4.14], "nice": false, "zero": false}, "axis": {"orient": "top", "values": [-1,0,1,2,3,4], "labels": false, "domain": true, "title": null, "tickSize": -12}},
       "y": {"field": "stress", "type": "quantitative", "scale": {"domain": [0, 90], "nice": false}, "axis": {"orient": "right", "values": [0,10,20,30,40,50,60,70,80,90], "labels": false, "domain": false, "title": null, "tickSize": -12}}
     }},
    {"mark": {"type": "line", "opacity": 0},
     "encoding": {
       "x": {"field": "strain", "type": "quantitative", "scale": {"domain": [-1.2, 4.14], "nice": false, "zero": false}, "axis": {"orient": "top", "values": [-0.5,0.5,1.5,2.5,3.5], "labels": false, "domain": false, "title": null, "tickSize": -6}},
       "y": {"field": "stress", "type": "quantitative", "scale": {"domain": [0, 90], "nice": false}, "axis": {"orient": "right", "values": [5,15,25,35,45,55,65,75,85], "labels": false, "domain": false, "title": null, "tickSize": -6}}
     }}
  ],
  "resolve": {"axis": {"x": "independent", "y": "independent"}}
}
]
}
